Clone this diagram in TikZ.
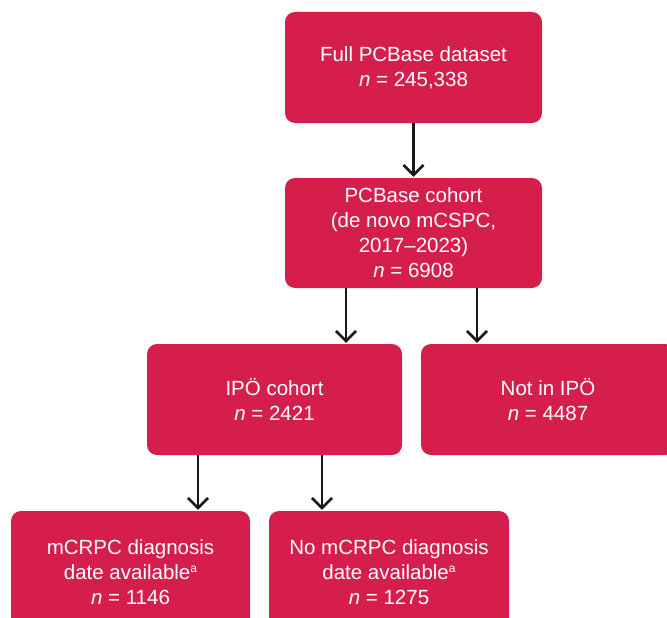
\documentclass[tikz,border=0pt]{standalone}
\usepackage{fontspec}
\setmainfont{Liberation Sans}
\usetikzlibrary{arrows.meta}
\definecolor{boxred}{RGB}{213,30,75}
\newcommand{\supa}{\raisebox{0.62ex}{\fontsize{12pt}{12pt}\selectfont a}}
\tikzset{
  box/.style={fill=boxred, rounded corners=10pt, text=white, align=center,
    font=\fontsize{20.5pt}{25pt}\selectfont, inner sep=0pt},
  arr/.style={line width=2.6pt, draw=black!90,
    -{Straight Barb[length=10pt,width=20pt,line width=2.6pt]}, shorten >=1pt}
}
\begin{document}
\begin{tikzpicture}[x=1pt,y=-1pt]
\useasboundingbox (0,0) rectangle (667,618);
\clip (0,0) rectangle (667,618);
\node[box, minimum width=257pt, minimum height=111pt] (b1) at (413.5,67.5)
  {Full PCBase dataset\\\textit{n} = 245,338};
\node[box, minimum width=257pt, minimum height=110pt] (b2) at (413.5,233)
  {PCBase cohort\\(de novo mCSPC,\\2017–2023)\\\textit{n} = 6908};
\node[box, minimum width=255pt, minimum height=111pt] (b3) at (274.5,399.5)
  {IPÖ cohort\\\textit{n} = 2421};
\node[box, minimum width=254pt, minimum height=111pt] (b4) at (548,399.5)
  {Not in IPÖ\\\textit{n} = 4487};
\node[box, minimum width=239pt, minimum height=122pt] (b5) at (130.5,572)
  {mCRPC diagnosis\\date available\supa\\\textit{n} = 1146};
\node[box, minimum width=240pt, minimum height=122pt] (b6) at (389,572)
  {No mCRPC diagnosis\\date available\supa\\\textit{n} = 1275};
\coordinate (a1) at (346,0);
\coordinate (a2) at (477,0);
\coordinate (a3) at (198,0);
\coordinate (a4) at (322,0);
\draw[arr] (b1.south) -- (b2.north);
\draw[arr] (b2.south -| a1) -- (b3.north -| a1);
\draw[arr] (b2.south -| a2) -- (b4.north -| a2);
\draw[arr] (b3.south -| a3) -- (b5.north -| a3);
\draw[arr] (b3.south -| a4) -- (b6.north -| a4);
\end{tikzpicture}
\end{document}
